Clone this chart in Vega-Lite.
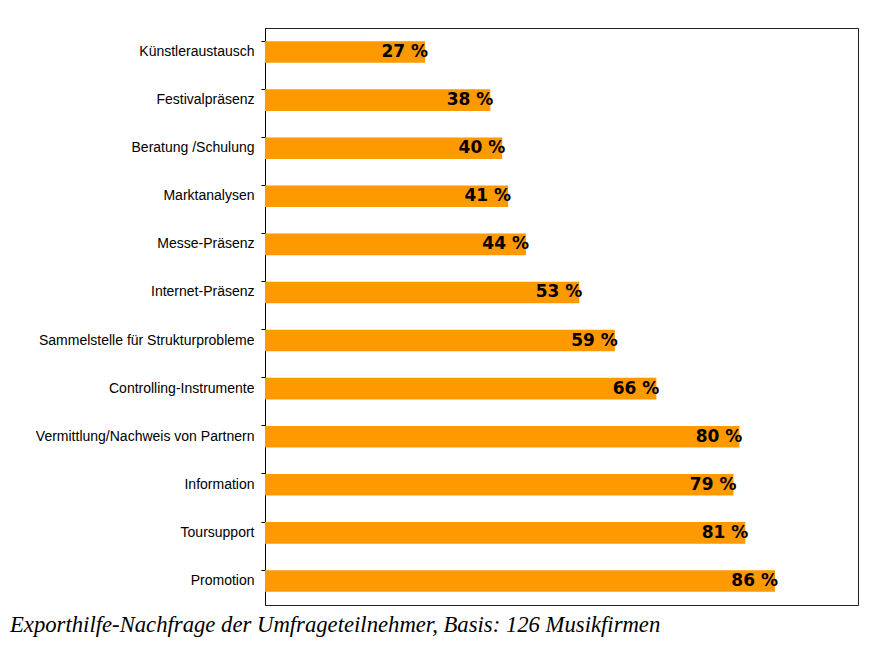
{
  "$schema": "https://vega.github.io/schema/vega-lite/v6.json",
  "width": 593,
  "height": 577,
  "autosize": {"type": "none"},
  "padding": {"left": 265, "top": 28, "right": 19, "bottom": 43},
  "background": "white",
  "config": {
    "view": {"stroke": "#222", "strokeWidth": 1},
    "font": "Liberation Sans"
  },
  "title": {
    "text": "Exporthilfe-Nachfrage der Umfrageteilnehmer, Basis: 126 Musikfirmen",
    "orient": "bottom",
    "anchor": "start",
    "frame": "group",
    "dx": -255,
    "offset": 9,
    "font": "Liberation Serif",
    "fontStyle": "italic",
    "fontWeight": "normal",
    "fontSize": 22.7,
    "color": "black"
  },
  "data": {
    "values": [
      {"kategorie": "Künstleraustausch", "anteil": 27, "label": "27 %"},
      {"kategorie": "Festivalpräsenz", "anteil": 38, "label": "38 %"},
      {"kategorie": "Beratung /Schulung", "anteil": 40, "label": "40 %"},
      {"kategorie": "Marktanalysen", "anteil": 41, "label": "41 %"},
      {"kategorie": "Messe-Präsenz", "anteil": 44, "label": "44 %"},
      {"kategorie": "Internet-Präsenz", "anteil": 53, "label": "53 %"},
      {"kategorie": "Sammelstelle für Strukturprobleme ", "anteil": 59, "label": "59 %"},
      {"kategorie": "Controlling-Instrumente ", "anteil": 66, "label": "66 %"},
      {"kategorie": "Vermittlung/Nachweis von Partnern", "anteil": 80, "label": "80 %"},
      {"kategorie": "Information ", "anteil": 79, "label": "79 %"},
      {"kategorie": "Toursupport ", "anteil": 81, "label": "81 %"},
      {"kategorie": "Promotion ", "anteil": 86, "label": "86 %"}
    ]
  },
  "encoding": {
    "y": {
      "field": "kategorie",
      "type": "nominal",
      "sort": null,
      "scale": {"paddingInner": 0.55, "paddingOuter": 0.275},
      "axis": {
        "title": null,
        "domainColor": "black",
        "tickColor": "black",
        "tickSize": 4,
        "bandPosition": 0,
        "labelPadding": 7,
        "labelFont": "Liberation Sans",
        "labelFontSize": 14,
        "labelColor": "black",
        "labelLimit": 300
      }
    },
    "x": {
      "field": "anteil",
      "type": "quantitative",
      "scale": {"domain": [0, 100], "nice": false},
      "axis": null
    }
  },
  "layer": [
    {"mark": {"type": "bar", "color": "#FF9900"}},
    {
      "mark": {
        "type": "text",
        "align": "right",
        "baseline": "middle",
        "dx": 3,
        "font": "DejaVu Sans",
        "fontWeight": "bold",
        "fontSize": 17,
        "color": "black"
      },
      "encoding": {"text": {"field": "label"}}
    }
  ]
}
